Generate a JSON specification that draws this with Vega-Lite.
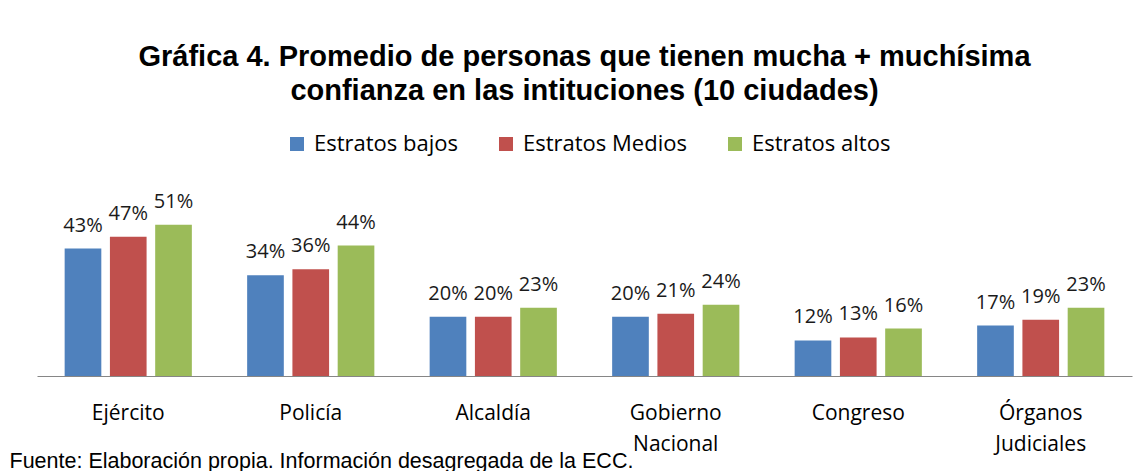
{
  "$schema": "https://vega.github.io/schema/vega-lite/v6.json",
  "width": 1095,
  "height": 163,
  "autosize": {"type": "none"},
  "padding": {"left": 37, "right": 15, "top": 213, "bottom": 95},
  "background": "white",
  "title": {
    "text": ["Gráfica 4. Promedio de personas que tienen mucha + muchísima", "confianza en las intituciones (10 ciudades)"],
    "font": "Liberation Sans",
    "fontSize": 29,
    "fontWeight": "bold",
    "color": "#000000",
    "lineHeight": 34,
    "anchor": "middle",
    "offset": 27
  },
  "data": {
    "values": [
      {"institucion": "Ejército", "estrato": "Estratos bajos", "valor": 0.43},
      {"institucion": "Ejército", "estrato": "Estratos Medios", "valor": 0.47},
      {"institucion": "Ejército", "estrato": "Estratos altos", "valor": 0.51},
      {"institucion": "Policía", "estrato": "Estratos bajos", "valor": 0.34},
      {"institucion": "Policía", "estrato": "Estratos Medios", "valor": 0.36},
      {"institucion": "Policía", "estrato": "Estratos altos", "valor": 0.44},
      {"institucion": "Alcaldía", "estrato": "Estratos bajos", "valor": 0.20},
      {"institucion": "Alcaldía", "estrato": "Estratos Medios", "valor": 0.20},
      {"institucion": "Alcaldía", "estrato": "Estratos altos", "valor": 0.23},
      {"institucion": "Gobierno Nacional", "estrato": "Estratos bajos", "valor": 0.20},
      {"institucion": "Gobierno Nacional", "estrato": "Estratos Medios", "valor": 0.21},
      {"institucion": "Gobierno Nacional", "estrato": "Estratos altos", "valor": 0.24},
      {"institucion": "Congreso", "estrato": "Estratos bajos", "valor": 0.12},
      {"institucion": "Congreso", "estrato": "Estratos Medios", "valor": 0.13},
      {"institucion": "Congreso", "estrato": "Estratos altos", "valor": 0.16},
      {"institucion": "Órganos Judiciales", "estrato": "Estratos bajos", "valor": 0.17},
      {"institucion": "Órganos Judiciales", "estrato": "Estratos Medios", "valor": 0.19},
      {"institucion": "Órganos Judiciales", "estrato": "Estratos altos", "valor": 0.23}
    ]
  },
  "encoding": {
    "x": {
      "field": "institucion",
      "type": "nominal",
      "sort": null,
      "scale": {"paddingInner": 0.303, "paddingOuter": 0.1515},
      "axis": {
        "title": "Fuente: Elaboración propia. Información desagregada de la ECC.",
        "titleFont": "Liberation Sans",
        "titleFontSize": 21.5,
        "titleFontWeight": "normal",
        "titleColor": "#000000",
        "titleAlign": "left",
        "titleAnchor": null,
        "titleBaseline": "alphabetic",
        "titleX": -28,
        "titleY": 91,
        "labelAngle": 0,
        "labelFont": "Open Sans",
        "labelFontSize": 21,
        "labelColor": "#000000",
        "labelBaseline": "alphabetic",
        "labelPadding": 43,
        "labelLineHeight": 31,
        "labelLimit": 0,
        "labelExpr": "split(datum.label, ' ')",
        "ticks": false,
        "domainColor": "#868686",
        "domainWidth": 1
      }
    },
    "xOffset": {
      "field": "estrato",
      "type": "nominal",
      "sort": ["Estratos bajos", "Estratos Medios", "Estratos altos"],
      "scale": {"paddingInner": 0.19}
    },
    "y": {
      "field": "valor",
      "type": "quantitative",
      "scale": {"domain": [0, 0.55]},
      "axis": null
    }
  },
  "layer": [
    {
      "mark": {"type": "bar"},
      "encoding": {
        "color": {
          "field": "estrato",
          "type": "nominal",
          "sort": ["Estratos bajos", "Estratos Medios", "Estratos altos"],
          "scale": {
            "domain": ["Estratos bajos", "Estratos Medios", "Estratos altos"],
            "range": ["#4F81BD", "#C0504D", "#9BBB59"]
          },
          "legend": {
            "title": null,
            "orient": "none",
            "direction": "horizontal",
            "legendX": 249,
            "legendY": -80,
            "symbolType": "square",
            "symbolSize": 196,
            "symbolStrokeWidth": 0,
            "symbolOpacity": 1,
            "labelFont": "Open Sans",
            "labelFontSize": 22,
            "labelColor": "#000000",
            "labelLimit": 0,
            "labelOffset": 6,
            "columnPadding": 37
          }
        }
      }
    },
    {
      "mark": {"type": "text", "baseline": "alphabetic", "dy": -17, "font": "Open Sans", "fontSize": 20, "color": "#1a1a1a"},
      "encoding": {
        "text": {"field": "valor", "type": "quantitative", "format": ".0%"}
      }
    }
  ],
  "config": {
    "view": {"stroke": null}
  }
}
